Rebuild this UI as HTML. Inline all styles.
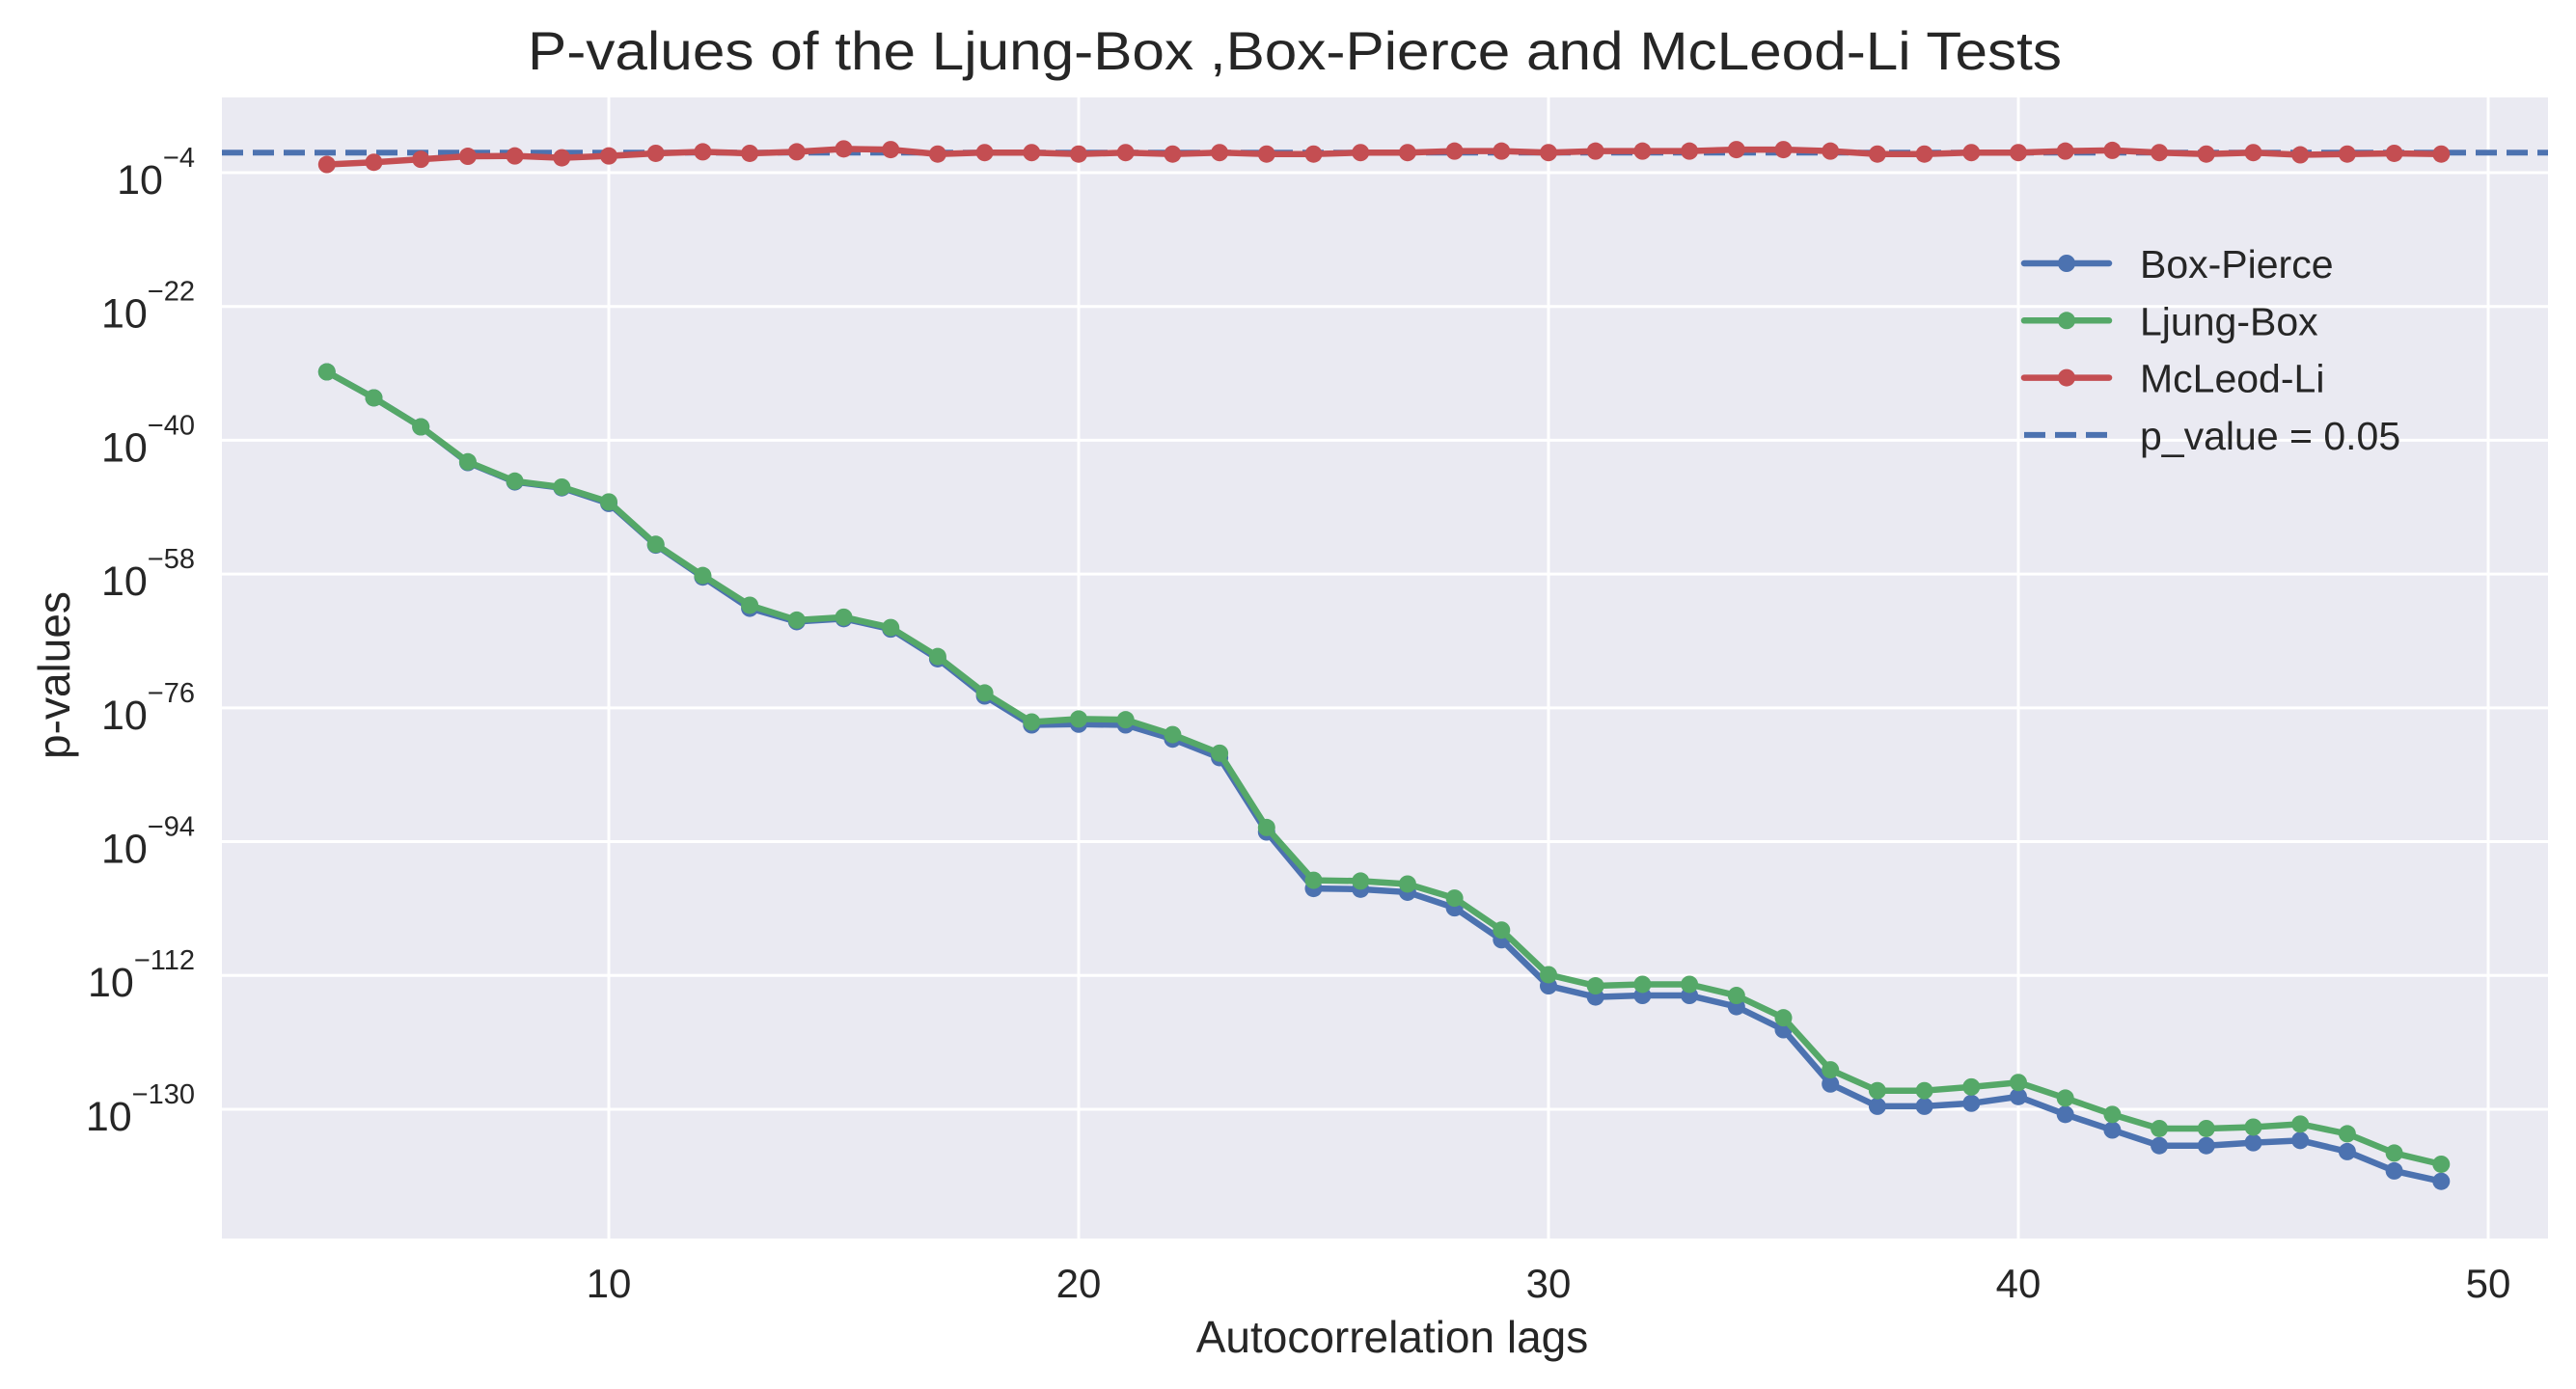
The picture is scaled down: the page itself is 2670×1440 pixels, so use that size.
<!DOCTYPE html>
<html><head><meta charset="utf-8"><style>
html,body{margin:0;padding:0;background:#fff;}
svg{display:block;font-family:"Liberation Sans",Arial,sans-serif;}
</style></head><body>
<svg id="chart" width="2670" height="1440" viewBox="0 0 2670 1440" xmlns="http://www.w3.org/2000/svg">
<text x="1342" y="72" font-size="56" text-anchor="middle" fill="#262626" textLength="1590" lengthAdjust="spacingAndGlyphs">P-values of the Ljung-Box ,Box-Pierce and McLeod-Li Tests</text>
<rect x="230" y="101" width="2411" height="1183" fill="#EAEAF2"/>
<g id="grid"></g>
<g id="series"></g>
<g id="ticks"></g>
<text x="1443" y="1402" font-size="46" text-anchor="middle" fill="#262626">Autocorrelation lags</text>
<text transform="translate(72,700) rotate(-90)" font-size="46" text-anchor="middle" fill="#262626">p-values</text>
<g id="legend"></g>
</svg>
<script>
const lags = [4,5,6,7,8,9,10,11,12,13,14,15,16,17,18,19,20,21,22,23,24,25,26,27,28,29,30,31,32,33,34,35,36,37,38,39,40,41,42,43,44,45,46,47,48,49];
// log10 of p-values
const boxPierceLog = [-30.8,-34.3,-38.2,-43.0,-45.6,-46.4,-48.5,-54.1,-58.4,-62.6,-64.4,-64.0,-65.4,-69.4,-74.4,-78.3,-78.2,-78.3,-80.2,-82.7,-92.7,-100.3,-100.4,-100.8,-102.9,-107.2,-113.4,-114.9,-114.7,-114.7,-116.2,-119.3,-126.6,-129.6,-129.6,-129.2,-128.3,-130.7,-132.8,-134.9,-134.9,-134.5,-134.2,-135.7,-138.3,-139.7];
const ljungBoxLog = [-30.8,-34.3,-38.2,-42.9,-45.5,-46.3,-48.3,-54.0,-58.2,-62.2,-64.2,-63.8,-65.2,-69.1,-74.0,-77.9,-77.5,-77.6,-79.6,-82.1,-92.1,-99.2,-99.3,-99.7,-101.6,-105.9,-111.9,-113.4,-113.2,-113.2,-114.7,-117.7,-124.7,-127.5,-127.5,-127.0,-126.4,-128.5,-130.7,-132.6,-132.6,-132.4,-132.0,-133.3,-135.9,-137.4];
const mcLeodLiLog = [-2.9,-2.6,-2.2,-1.8,-1.75,-2.0,-1.75,-1.4,-1.2,-1.4,-1.2,-0.8,-0.9,-1.5,-1.3,-1.3,-1.5,-1.3,-1.5,-1.3,-1.5,-1.5,-1.3,-1.3,-1.1,-1.1,-1.3,-1.1,-1.1,-1.1,-0.9,-0.9,-1.1,-1.5,-1.5,-1.3,-1.3,-1.1,-1.0,-1.3,-1.5,-1.3,-1.6,-1.5,-1.4,-1.5];
const thresholdP = 0.05;
const xTicks = [10,20,30,40,50];
const yTickExps = [-4,-22,-40,-58,-76,-94,-112,-130];

const NS = "http://www.w3.org/2000/svg";
const X0=230, X1=2641, Y0=101, Y1=1284;
function xs(v){ return 631 + (v-10)*48.7; }
function ys(e){ return 179 + (-4 - e)*7.706; }
function mk(tag, attrs, parent){ const el=document.createElementNS(NS,tag); for(const k in attrs) el.setAttribute(k, attrs[k]); parent.appendChild(el); return el; }

const grid=document.getElementById('grid'), ticks=document.getElementById('ticks'), series=document.getElementById('series'), legend=document.getElementById('legend');

xTicks.forEach(v=>{
  const l=mk('line',{x1:xs(v),x2:xs(v),y1:Y0,y2:Y1,stroke:'#fff','stroke-width':3},grid);
  
  
  const t=mk('text',{x:xs(v),y:1345,'font-size':42,'text-anchor':'middle',fill:'#262626'},ticks);
  
  
  t.textContent=v;
});
yTickExps.forEach(e=>{
  const y=ys(e);
  const l=mk('line',{x1:X0,x2:X1,y1:y,y2:y,stroke:'#fff','stroke-width':3},grid);
  
  
  const t=mk('text',{x:202,y:y+22,'font-size':43,'text-anchor':'end',fill:'#262626'},ticks);
  
  
  const b=mk('tspan',{},t); b.textContent='10';
  const s=mk('tspan',{dy:-28,'font-size':29},t); s.textContent='\u2212'+Math.abs(e);
});

// threshold line
const thrY=ys(Math.log10(thresholdP));
const thr=mk('line',{x1:X0,x2:X1,y1:thrY,y2:thrY,stroke:'#4C72B0','stroke-width':6,'stroke-dasharray':'22 10'},series);



function drawSeries(vals,color,name){
  const g=mk('g',{},series);
  
  
  const pts=lags.map((l,i)=>xs(l)+','+ys(vals[i])).join(' ');
  const pl=mk('polyline',{points:pts,fill:'none',stroke:color,'stroke-width':6.5,'stroke-linejoin':'round'},g);
  
  
  lags.forEach((l,i)=>{
    const c=mk('circle',{cx:xs(l),cy:ys(vals[i]),r:9,fill:color},g);
    
    
  });
}
drawSeries(boxPierceLog,'#4C72B0','box-pierce');
drawSeries(ljungBoxLog,'#55A868','ljung-box');
drawSeries(mcLeodLiLog,'#C44E52','mcleod-li');

const legendItems=[['Box-Pierce','#4C72B0',false],['Ljung-Box','#55A868',false],['McLeod-Li','#C44E52',false],['p_value = 0.05','#4C72B0',true]];
legendItems.forEach((it,i)=>{
  const y=273+i*59.3;
  const g=mk('g',{},legend);
  
  
  if(it[2]){
    mk('line',{x1:2098,x2:2186,y1:y,y2:y,stroke:it[1],'stroke-width':6,'stroke-dasharray':'22 10'},g);
  } else {
    mk('line',{x1:2098,x2:2186,y1:y,y2:y,stroke:it[1],'stroke-width':6.5,'stroke-linecap':'round'},g);
    mk('circle',{cx:2142,cy:y,r:9,fill:it[1]},g);
  }
  const t=mk('text',{x:2218,y:y+15,'font-size':41,fill:'#262626'},g);
  t.textContent=it[0];
});
</script>
</body></html>
